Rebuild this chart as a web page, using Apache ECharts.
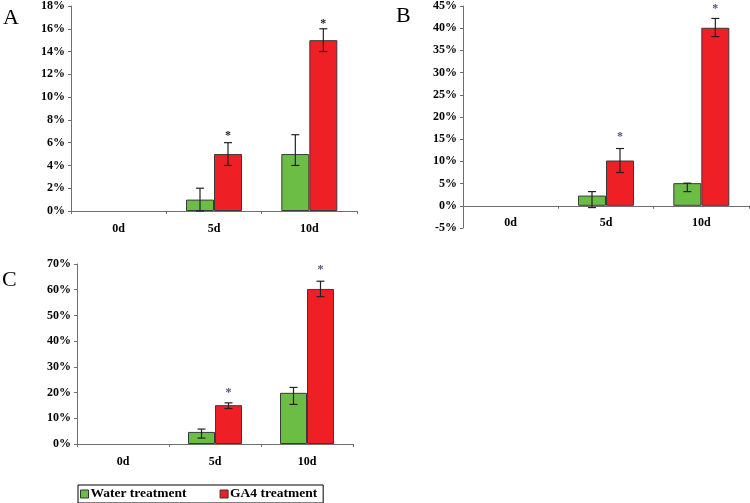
<!DOCTYPE html>
<html><head><meta charset="utf-8">
<script src="https://cdn.jsdelivr.net/npm/echarts@6/dist/echarts.min.js"></script>
<style>html,body{margin:0;padding:0;background:#fff}#c{width:750px;height:503px}</style>
</head><body><div id="c"></div>
<script>
var categories = ['0d', '5d', '10d'];
var seriesNames = ['Water treatment', 'GA4 treatment'];
// Panel A
var aWater = [0, 1, 5];
var aGA4 = [0, 5, 15];
var aWaterLow = [0, 0, 4], aWaterHigh = [0, 2, 6.7];
var aGA4Low = [0, 4, 14], aGA4High = [0, 6, 16];
var aStars = [null, 6.8, 16.6];
// Panel B
var bWater = [0, 2.3, 5.1];
var bGA4 = [0, 10.2, 40.1];
var bWaterLow = [0, -0.4, 3.2], bWaterHigh = [0, 3.2, 5.1];
var bGA4Low = [0, 7.5, 38.1], bGA4High = [0, 12.9, 42.2];
var bStars = [null, 15.9, 44.8];
// Panel C
var cWater = [0, 4.7, 19.9];
var cGA4 = [0, 15.1, 60.3];
var cWaterLow = [0, 2.3, 15.4], cWaterHigh = [0, 5.8, 22.0];
var cGA4Low = [0, 13.8, 57.3], cGA4High = [0, 16.0, 63.3];
var cStars = [null, 20.7, 68.3];

var GREEN = '#6cbd45', RED = '#ee2026';
var FONT = '"Liberation Serif", "Times New Roman", serif';

var panels = [
  {grid:{left:71, right:393, top:5, bottom:292}, min:0, max:18, interval:2, water:aWater, ga:aGA4,
   wl:aWaterLow, wh:aWaterHigh, gl:aGA4Low, gh:aGA4High, stars:aStars, starColor:'#222', bw:28, lm:12},
  {grid:{left:463, right:1, top:5, bottom:275}, min:-5, max:45, interval:5, water:bWater, ga:bGA4,
   wl:bWaterLow, wh:bWaterHigh, gl:bGA4Low, gh:bGA4High, stars:bStars, starColor:'#5a4f7a', bw:28, lm:-11},
  {grid:{left:77, right:397, top:264, bottom:59}, min:0, max:70, interval:10, water:cWater, ga:cGA4,
   wl:cWaterLow, wh:cWaterHigh, gl:cGA4Low, gh:cGA4High, stars:cStars, starColor:'#5a4f7a', bw:27, lm:12}
];

function barData(arr){
  return arr.map(function(v){ return v === 0 ? {value:0, itemStyle:{borderWidth:0}} : v; });
}

var grids = [], xAxes = [], yAxes = [], series = [];
panels.forEach(function(p, i){
  grids.push(p.grid);
  xAxes.push({type:'category', gridIndex:i, data:categories,
    axisLine:{onZero:true, lineStyle:{color:'#6e6e6e', width:1}},
    axisTick:{show:true, length:3, lineStyle:{color:'#6e6e6e'}},
    axisLabel:{fontFamily:FONT, fontWeight:'bold', fontSize:12, color:'#000', margin:p.lm},
    splitLine:{show:false}});
  yAxes.push({type:'value', gridIndex:i, min:p.min, max:p.max, interval:p.interval,
    axisLine:{show:true, onZero:false, lineStyle:{color:'#6e6e6e', width:1}},
    axisTick:{show:true, length:3, lineStyle:{color:'#6e6e6e'}},
    axisLabel:{fontFamily:FONT, fontWeight:'bold', fontSize:12, color:'#000', margin:6,
      formatter:function(v){return v + '%';}},
    splitLine:{show:false}});
  series.push({name:seriesNames[0], type:'bar', xAxisIndex:i, yAxisIndex:i, data:barData(p.water),
    barWidth:p.bw, barGap:'0%', itemStyle:{color:GREEN, borderColor:'#3a3a3a', borderWidth:1}});
  series.push({name:seriesNames[1], type:'bar', xAxisIndex:i, yAxisIndex:i, data:barData(p.ga),
    barWidth:p.bw, barGap:'0%', itemStyle:{color:RED, borderColor:'#3a3a3a', borderWidth:1}});
  var errData = [];
  for (var k = 0; k < categories.length; k++) {
    if (p.water[k] !== 0 || p.wh[k] !== 0) errData.push([k, p.wl[k], p.wh[k], -1]);
    if (p.ga[k] !== 0 || p.gh[k] !== 0) errData.push([k, p.gl[k], p.gh[k], 1]);
  }
  (function(bw){
  series.push({type:'custom', xAxisIndex:i, yAxisIndex:i, data:errData, silent:true, z:5,
    renderItem:function(params, api){
      var c = api.value(0), side = api.value(3);
      var lo = api.coord([c, api.value(1)]), hi = api.coord([c, api.value(2)]);
      var x = lo[0] + side * bw / 2;
      var cap = 4, st = {stroke:'#222', lineWidth:1.2};
      return {type:'group', children:[
        {type:'line', shape:{x1:x, y1:lo[1], x2:x, y2:hi[1]}, style:st},
        {type:'line', shape:{x1:x-cap, y1:lo[1], x2:x+cap, y2:lo[1]}, style:st},
        {type:'line', shape:{x1:x-cap, y1:hi[1], x2:x+cap, y2:hi[1]}, style:st}
      ]};
    }});
  var starData = [];
  p.stars.forEach(function(s, k){ if (s !== null) starData.push([k, s]); });
  series.push({type:'custom', xAxisIndex:i, yAxisIndex:i, data:starData, silent:true, z:6,
    renderItem:function(params, api){
      var pt = api.coord([api.value(0), api.value(1)]);
      return {type:'text', style:{text:'*', x:pt[0] + bw/2, y:pt[1] + 2, textAlign:'center',
        textVerticalAlign:'middle', fontSize:12, fontWeight:'bold', fontFamily:FONT, fill:p.starColor}};
    }});
  })(p.bw);
});

var chart = echarts.init(document.getElementById('c'));
chart.setOption({
  animation:false,
  backgroundColor:'#fff',
  grid:grids, xAxis:xAxes, yAxis:yAxes, series:series,
  legend:{data:seriesNames, left:78, top:485, padding:[2,6,2,2], itemGap:33,
    borderColor:'#000', borderWidth:1, borderRadius:0,
    itemWidth:8, itemHeight:8, icon:'rect',
    itemStyle:{borderColor:'#333', borderWidth:1},
    textStyle:{fontFamily:FONT, fontWeight:'bold', fontSize:13.5, color:'#000', padding:[0,0,0,-3]}},
  graphic:[
    {type:'text', left:3, top:7, style:{text:'A', font:'22px ' + FONT, fill:'#000'}},
    {type:'text', left:396, top:5, style:{text:'B', font:'22px ' + FONT, fill:'#000'}},
    {type:'text', left:2, top:269, style:{text:'C', font:'22px ' + FONT, fill:'#000'}}
  ]
});
</script></body></html>
